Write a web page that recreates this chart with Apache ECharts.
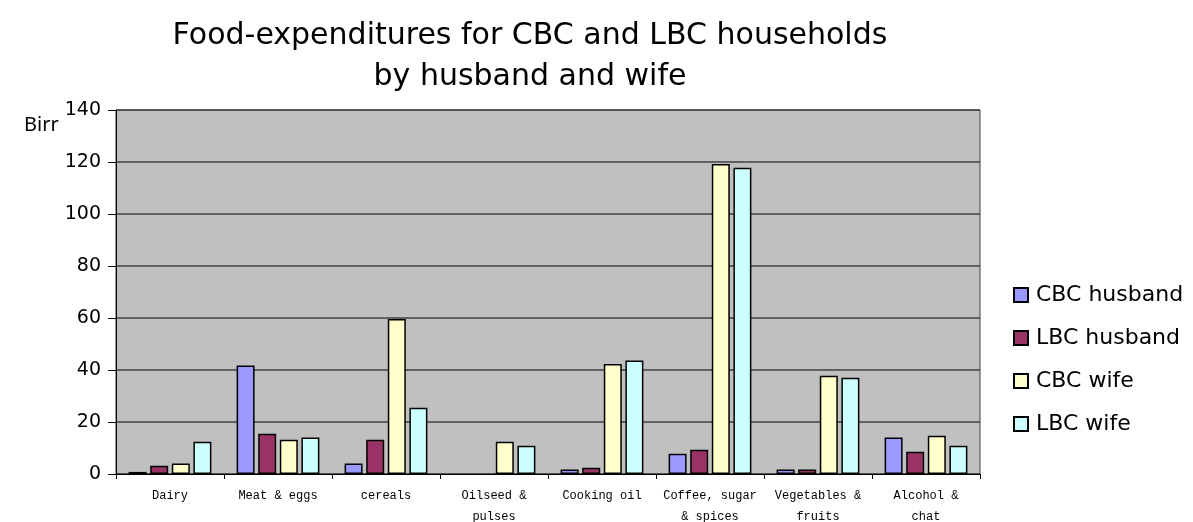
<!DOCTYPE html>
<html><head><meta charset="utf-8">
<script src="https://cdn.jsdelivr.net/npm/echarts@6/dist/echarts.min.js"></script>
<style>html,body{margin:0;padding:0;background:#fff}#c{width:1193px;height:522px}</style>
</head><body><div id="c"></div>
<script>
const categories = ["Dairy", "Meat & eggs", "cereals", "Oilseed &\npulses", "Cooking oil", "Coffee, sugar\n& spices", "Vegetables &\nfruits", "Alcohol &\nchat"];
const cbcHusband = [0.8, 41.7, 4.0, 0, 1.7, 7.8, 1.7, 14.0];
const lbcHusband = [3.2, 15.5, 13.2, 0, 2.4, 9.3, 1.7, 8.6];
const cbcWife = [4.0, 13.2, 59.6, 12.4, 42.3, 119.2, 37.8, 14.7];
const lbcWife = [12.4, 14.0, 25.5, 10.9, 43.7, 117.8, 37.0, 10.9];
const yTicks = [0, 20, 40, 60, 80, 100, 120, 140];

const names = ["CBC husband", "LBC husband", "CBC wife", "LBC wife"];
const colors = ["#9999FF", "#993366", "#FFFFCC", "#CCFFFF"];
const data = [cbcHusband, lbcHusband, cbcWife, lbcWife];
const sans = "DejaVu Sans";

const chart = echarts.init(document.getElementById('c'));
chart.setOption({
  animation: false,
  backgroundColor: '#ffffff',
  title: {
    text: "Food-expenditures for CBC and LBC households\nby husband and wife",
    left: 525, top: 11, textAlign: 'center',
    textStyle: { fontFamily: sans, fontSize: 30, fontWeight: 'normal', color: '#000', lineHeight: 41 }
  },
  legend: {
    orient: 'vertical', left: 1013, top: 284, padding: 0,
    itemWidth: 14, itemHeight: 14, itemGap: 21,
    textStyle: { fontFamily: sans, fontSize: 22, color: '#000', padding: [0, 0, 0, 3] },
    data: names.map(n => ({ name: n, icon: 'rect' }))
  },
  graphic: [{
    type: 'text', left: 24, top: 115,
    style: { text: 'Birr', fontFamily: 'Noto Sans', fontSize: 20, fill: '#000' }
  }],
  grid: {
    left: 116, right: 213, top: 110, bottom: 48,
    outerBoundsMode: 'none', containLabel: false,
    show: true, backgroundColor: '#C0C0C0', borderColor: '#404040', borderWidth: 1
  },
  xAxis: {
    type: 'category', data: categories,
    axisLine: { lineStyle: { color: '#000', width: 1 } },
    axisTick: { show: true, length: 5, lineStyle: { color: '#000' } },
    axisLabel: { interval: 0, fontFamily: 'Liberation Mono', fontSize: 12, color: '#000', margin: 11, lineHeight: 21 }
  },
  yAxis: {
    type: 'value', min: 0, max: yTicks[yTicks.length - 1], interval: 20,
    axisLine: { show: true, lineStyle: { color: '#000', width: 1 } },
    axisTick: { show: true, length: 8, lineStyle: { color: '#000' } },
    axisLabel: { fontFamily: sans, fontSize: 19, color: '#000', margin: 15 },
    splitLine: { lineStyle: { color: '#404040', width: 1.5 } }
  },
  series: names.map((n, i) => ({
    name: n, type: 'bar', data: data[i].map(v => (v === 0 ? null : v)),
    barWidth: 18, barGap: '20%',
    itemStyle: { color: colors[i], borderColor: '#000', borderWidth: 1.5 }
  }))
});
</script></body></html>
